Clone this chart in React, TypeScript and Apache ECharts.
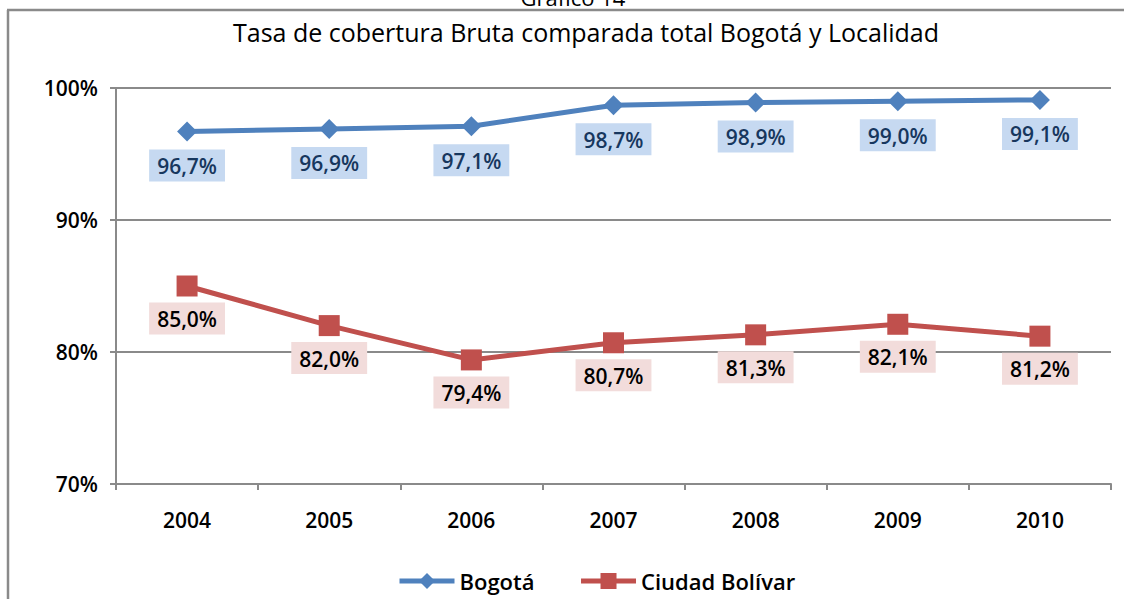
import React, { useEffect, useRef } from "react";
import * as echarts from "echarts";

const years = ["2004", "2005", "2006", "2007", "2008", "2009", "2010"];
const bogota = [96.7, 96.9, 97.1, 98.7, 98.9, 99.0, 99.1];
const bolivar = [85.0, 82.0, 79.4, 80.7, 81.3, 82.1, 81.2];
const seriesNames = ["Bogotá", "Ciudad Bolívar"];
const titleText = "Tasa de cobertura Bruta comparada total Bogotá y Localidad";
const topText = "Gráfico 14";

const FONT = "'Open Sans', Lato, sans-serif";

export default function App() {
  const ref = useRef<HTMLDivElement>(null);
  useEffect(() => {
    document.body.style.margin = "0";
    const chart = echarts.init(ref.current!, null, { renderer: "svg" });
    const fmt = (p: any) => p.value.toFixed(1).replace(".", ",") + "%";
    chart.setOption({
      animation: false,
      backgroundColor: "#ffffff",
      textStyle: { fontFamily: FONT },
      title: {
        text: titleText,
        left: 581,
        textAlign: "center",
        top: 14,
        textStyle: { fontFamily: FONT, fontSize: 25, fontWeight: "normal", color: "#000" },
      },
      graphic: [
        { type: "line", shape: { x1: 7, y1: 10, x2: 1124, y2: 10 }, style: { stroke: "#8a8a8a", lineWidth: 2.5 } },
        { type: "line", shape: { x1: 8, y1: 10, x2: 8, y2: 599 }, style: { stroke: "#8a8a8a", lineWidth: 2.5 } },
        {
          type: "text",
          x: 573,
          y: 8,
          style: { text: topText, fontFamily: FONT, fontSize: 22, fill: "#000", textAlign: "center", textVerticalAlign: "bottom" },
        },
      ],
      legend: {
        left: 397,
        top: 570,
        padding: 0,
        itemWidth: 55,
        itemHeight: 20,
        itemGap: 44,
        lineStyle: { width: 5 },
        textStyle: { fontFamily: FONT, fontSize: 22, color: "#000", fontWeight: 600 },
        data: seriesNames,
      },
      grid: { left: 116, right: 13, top: 88, bottom: 115, containLabel: false },
      xAxis: {
        type: "category",
        data: years,
        boundaryGap: true,
        axisLine: { lineStyle: { color: "#8a8a8a", width: 2 } },
        axisTick: { show: true, length: 6, lineStyle: { color: "#8a8a8a", width: 2 } },
        axisLabel: { fontFamily: FONT, fontSize: 21, color: "#000", margin: 25, fontWeight: 600 },
      },
      yAxis: {
        type: "value",
        min: 70,
        max: 100,
        interval: 10,
        axisLine: { show: true, lineStyle: { color: "#8a8a8a", width: 2 } },
        axisTick: { show: true, length: 6, lineStyle: { color: "#8a8a8a", width: 2 } },
        splitLine: { lineStyle: { color: "#8a8a8a", width: 2 } },
        axisLabel: { formatter: "{value}%", fontFamily: FONT, fontSize: 21, color: "#000", margin: 18, fontWeight: 600 },
      },
      series: [
        {
          name: seriesNames[0],
          type: "line",
          data: bogota,
          symbol: "diamond",
          symbolSize: 20,
          itemStyle: { color: "#4F81BD" },
          lineStyle: { color: "#4F81BD", width: 5 },
          label: {
            show: true,
            position: "bottom",
            distance: 8,
            formatter: fmt,
            fontFamily: FONT,
            fontSize: 21,
            fontWeight: 600,
            color: "#17375E",
            backgroundColor: "#C6D9F1",
            padding: [6, 8, 5, 8],
          },
        },
        {
          name: seriesNames[1],
          type: "line",
          data: bolivar,
          symbol: "rect",
          symbolSize: 21,
          itemStyle: { color: "#C0504D" },
          lineStyle: { color: "#C0504D", width: 5 },
          label: {
            show: true,
            position: "bottom",
            distance: 6,
            formatter: fmt,
            fontFamily: FONT,
            fontSize: 21,
            fontWeight: 600,
            color: "#000",
            backgroundColor: "#F2DCDB",
            padding: [6, 8, 5, 8],
          },
        },
      ],
    });
    return () => chart.dispose();
  }, []);
  return <div ref={ref} style={{ width: 1124, height: 599 }} />;
}
